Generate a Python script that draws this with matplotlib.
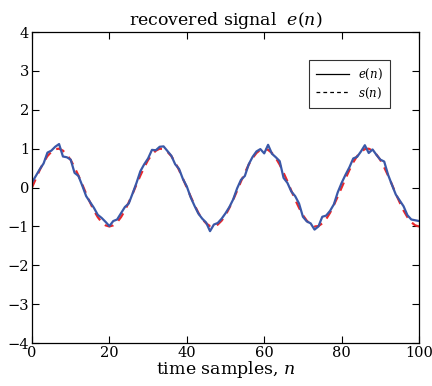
import matplotlib
matplotlib.use("Agg")
import matplotlib.pyplot as plt
from matplotlib.lines import Line2D

plt.rcParams['font.family'] = ['DejaVu Serif']
plt.rcParams['mathtext.fontset'] = 'dejavuserif'

n = list(range(101))

s_vals = [0.00, 0.23, 0.45, 0.65, 0.81, 0.92, 0.99, 1.00, 0.95, 0.85,
          0.71, 0.52, 0.31, 0.08, -0.16, -0.38, -0.59, -0.76, -0.89, -0.97,
          -1.00, -0.97, -0.89, -0.76, -0.59, -0.38, -0.16, 0.08, 0.31, 0.52,
          0.71, 0.85, 0.95, 1.00, 0.99, 0.92, 0.81, 0.65, 0.45, 0.23,
          0.00, -0.23, -0.45, -0.65, -0.81, -0.92, -0.99, -1.00, -0.95, -0.85,
          -0.71, -0.52, -0.31, -0.08, 0.16, 0.38, 0.59, 0.76, 0.89, 0.97,
          1.00, 0.97, 0.89, 0.76, 0.59, 0.38, 0.16, -0.08, -0.31, -0.52,
          -0.71, -0.85, -0.95, -1.00, -0.99, -0.92, -0.81, -0.65, -0.45, -0.23,
          0.00, 0.23, 0.45, 0.65, 0.81, 0.92, 0.99, 1.00, 0.95, 0.85,
          0.71, 0.52, 0.31, 0.08, -0.16, -0.38, -0.59, -0.76, -0.89, -0.97,
          -1.00]

e_vals = [0.13, 0.30, 0.47, 0.62, 0.90, 0.95, 1.05, 1.12, 0.80, 0.78,
          0.72, 0.38, 0.30, 0.05, -0.22, -0.37, -0.52, -0.70, -0.78, -0.88,
          -0.99, -0.86, -0.82, -0.66, -0.50, -0.41, -0.15, 0.12, 0.42, 0.60,
          0.75, 0.97, 0.96, 1.05, 1.06, 0.94, 0.82, 0.60, 0.48, 0.22,
          0.03, -0.25, -0.47, -0.67, -0.80, -0.90, -1.12, -0.95, -0.91, -0.80,
          -0.66, -0.50, -0.30, -0.02, 0.20, 0.30, 0.60, 0.79, 0.93, 0.99,
          0.88, 1.10, 0.87, 0.78, 0.68, 0.25, 0.12, -0.10, -0.22, -0.41,
          -0.75, -0.87, -0.92, -1.08, -1.00, -0.75, -0.72, -0.60, -0.43, -0.12,
          0.12, 0.33, 0.52, 0.75, 0.79, 0.93, 1.09, 0.89, 0.98, 0.84,
          0.72, 0.67, 0.33, 0.07, -0.18, -0.33, -0.48, -0.71, -0.82, -0.84,
          -0.86]

xticks = [0, 20, 40, 60, 80, 100]
yticks = [-4, -3, -2, -1, 0, 1, 2, 3, 4]
ytick_labels = ['\u22124', '\u22123', '\u22122', '\u22121', '0', '1', '2', '3', '4']

fig = plt.figure(figsize=(4.32, 3.86), dpi=100)
ax = fig.add_axes([0.074, 0.111, 0.896, 0.806])

ax.plot(n, s_vals, color='#e8272b', linestyle=(0, (4, 3)), linewidth=1.6)
ax.plot(n, e_vals, color='#3a58a8', linestyle='-', linewidth=1.6)

ax.set_xlim(0, 100)
ax.set_ylim(-4, 4)
ax.set_xticks(xticks)
ax.set_yticks(yticks)
ax.set_yticklabels(ytick_labels)
ax.tick_params(direction='in', top=True, right=True, length=5, width=0.8, labelsize=10.5, pad=2)
for sp in ax.spines.values():
    sp.set_linewidth(0.9)

ax.set_title(r'recovered signal  $e(n)$', fontsize=12.5, pad=5)
ax.set_xlabel(r'time samples, $n$', fontsize=12.5, labelpad=-1)

handles = [Line2D([], [], color='black', linestyle='-', linewidth=0.9),
           Line2D([], [], color='black', linestyle=(0, (3, 2.5)), linewidth=0.9)]
leg = ax.legend(handles, [r'$e(n)$', r'$s(n)$'], loc='upper left',
                bbox_to_anchor=(0.70, 0.93), fontsize=8.5, frameon=True, fancybox=False,
                edgecolor='black', handlelength=2.8, borderpad=0.6, labelspacing=0.3)
leg.get_frame().set_linewidth(0.8)

fig.savefig('out.png', dpi=100)
